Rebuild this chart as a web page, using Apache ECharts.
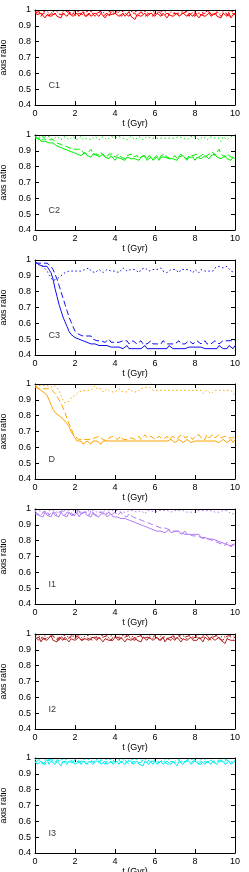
<!DOCTYPE html>
<html><head><meta charset="utf-8">
<script src="https://cdn.jsdelivr.net/npm/echarts@6/dist/echarts.min.js"></script>
<style>html,body{margin:0;padding:0;background:#fff;overflow:hidden}#c{width:249px;height:872px}</style>
</head><body><div id="c"></div>
<script>
const T = [0,0.1,0.2,0.3,0.4,0.5,0.6,0.7,0.8,0.9,1,1.1,1.2,1.3,1.4,1.5,1.6,1.7,1.8,1.9,2,2.1,2.2,2.3,2.4,2.5,2.6,2.7,2.8,2.9,3,3.1,3.2,3.3,3.4,3.5,3.6,3.7,3.8,3.9,4,4.1,4.2,4.3,4.4,4.5,4.6,4.7,4.8,4.9,5,5.1,5.2,5.3,5.4,5.5,5.6,5.7,5.8,5.9,6,6.1,6.2,6.3,6.4,6.5,6.6,6.7,6.8,6.9,7,7.1,7.2,7.3,7.4,7.5,7.6,7.7,7.8,7.9,8,8.1,8.2,8.3,8.4,8.5,8.6,8.7,8.8,8.9,9,9.1,9.2,9.3,9.4,9.5,9.6,9.7,9.8,9.9,10];
const xTicks = [0,2,4,6,8,10];
const yTicks = [0.4,0.5,0.6,0.7,0.8,0.9,1];
const labels = ['C1','C2','C3','D','I1','I2','I3'];

const C1_solid = [0.99,0.97,0.96,0.98,0.97,0.95,0.97,0.98,0.96,0.97,
0.98,0.96,0.97,0.95,0.98,0.97,0.96,0.98,0.97,0.96,
0.97,0.98,0.96,0.97,0.99,0.96,0.97,0.98,0.96,0.97,
0.98,0.97,0.96,0.98,0.97,0.95,0.97,0.98,0.97,0.96,
0.98,0.97,0.96,0.97,0.98,0.96,0.97,0.99,0.96,0.97,
0.94,0.97,0.98,0.96,0.97,0.98,0.96,0.97,0.98,0.97,
0.96,0.98,0.97,0.96,0.98,0.97,0.95,0.97,0.98,0.96,
0.97,0.98,0.96,0.97,0.98,0.97,0.96,0.98,0.97,0.96,
0.98,0.97,0.95,0.97,0.98,0.96,0.97,0.98,0.96,0.97,
0.98,0.96,0.97,0.95,0.98,0.97,0.96,0.98,0.95,0.97,0.98];
const C1_dashed = [0.98,0.97,0.99,0.96,0.98,0.97,0.98,0.96,0.99,0.97,
0.96,0.98,0.99,0.97,0.96,0.98,0.97,0.99,0.96,0.98,
0.97,0.96,0.98,0.99,0.97,0.98,0.96,0.97,0.99,0.98,
0.96,0.98,0.97,0.99,0.96,0.97,0.98,0.96,0.99,0.97,
0.97,0.99,0.98,0.96,0.97,0.98,0.99,0.96,0.98,0.97,
0.98,0.96,0.97,0.99,0.98,0.96,0.97,0.98,0.99,0.96,
0.98,0.97,0.99,0.98,0.96,0.97,0.98,0.99,0.97,0.96,
0.98,0.99,0.97,0.96,0.98,0.97,0.99,0.96,0.98,0.97,
0.96,0.98,0.99,0.97,0.96,0.98,0.97,0.99,0.98,0.96,
0.97,0.99,0.98,0.96,0.97,0.99,0.98,0.96,0.97,0.98,0.97];
const C1_dotted = [0.99,0.98,0.99,0.97,0.99,0.98,0.99,0.98,0.97,0.99,
0.98,0.99,0.98,0.97,0.99,0.98,0.99,0.99,0.98,0.97,
0.99,0.98,0.99,0.98,0.97,0.99,0.98,0.99,0.98,0.99,
0.97,0.98,0.99,0.98,0.99,0.97,0.98,0.99,0.98,0.99,
0.98,0.97,0.99,0.98,0.99,0.98,0.97,0.99,0.98,0.99,
0.98,0.99,0.97,0.98,0.99,0.98,0.99,0.97,0.98,0.99,
0.99,0.98,0.97,0.99,0.98,0.99,0.98,0.97,0.99,0.98,
0.98,0.99,0.98,0.97,0.99,0.98,0.99,0.98,0.97,0.99,
0.99,0.98,0.99,0.98,0.97,0.99,0.98,0.99,0.97,0.98,
0.98,0.99,0.97,0.98,0.99,0.98,0.97,0.99,0.98,0.99,0.98];

const C2_solid = [0.98,0.97,0.98,0.96,0.97,0.96,0.97,0.95,0.96,0.95,
0.94,0.93,0.94,0.92,0.93,0.91,0.92,0.90,0.91,0.89,
0.89,0.88,0.89,0.87,0.88,0.89,0.87,0.88,0.86,0.88,
0.87,0.88,0.86,0.87,0.88,0.86,0.87,0.85,0.87,0.86,
0.84,0.86,0.87,0.85,0.86,0.84,0.86,0.87,0.85,0.86,
0.85,0.86,0.84,0.86,0.85,0.87,0.84,0.85,0.86,0.84,
0.85,0.86,0.84,0.86,0.85,0.86,0.87,0.85,0.86,0.85,
0.86,0.84,0.86,0.85,0.87,0.86,0.84,0.86,0.85,0.86,
0.84,0.86,0.87,0.85,0.86,0.87,0.86,0.85,0.87,0.86,
0.88,0.86,0.87,0.85,0.86,0.87,0.85,0.86,0.84,0.86,0.85];
const C2_dashed = [0.99,0.98,0.97,0.98,0.99,0.97,0.98,0.97,0.96,0.97,
0.96,0.95,0.96,0.94,0.95,0.93,0.94,0.92,0.93,0.91,
0.92,0.91,0.90,0.91,0.89,0.90,0.88,0.89,0.91,0.88,
0.89,0.87,0.88,0.89,0.87,0.88,0.86,0.88,0.87,0.88,
0.86,0.87,0.88,0.86,0.87,0.85,0.87,0.86,0.88,0.86,
0.86,0.87,0.85,0.86,0.87,0.86,0.85,0.87,0.86,0.85,
0.86,0.87,0.85,0.87,0.86,0.88,0.86,0.87,0.85,0.86,
0.87,0.85,0.86,0.88,0.86,0.87,0.85,0.87,0.86,0.87,
0.86,0.88,0.86,0.87,0.88,0.86,0.87,0.88,0.87,0.89,
0.87,0.89,0.91,0.88,0.87,0.86,0.88,0.87,0.86,0.87,0.86];
const C2_dotted = [0.99,0.98,0.99,0.98,0.97,0.99,0.98,0.99,0.98,0.97,
0.98,0.99,0.98,0.97,0.98,0.99,0.98,0.97,0.98,0.99,
0.98,0.97,0.98,0.99,0.97,0.98,0.98,0.99,0.97,0.98,
0.99,0.98,0.97,0.98,0.99,0.98,0.97,0.98,0.99,0.98,
0.98,0.97,0.99,0.98,0.98,0.99,0.97,0.98,0.99,0.98,
0.97,0.98,0.99,0.98,0.97,0.98,0.99,0.98,0.98,0.97,
0.98,0.99,0.98,0.97,0.98,0.99,0.98,0.97,0.98,0.99,
0.98,0.97,0.99,0.98,0.98,0.99,0.97,0.98,0.99,0.98,
0.99,0.98,0.97,0.98,0.99,0.98,0.97,0.98,0.99,0.98,
0.98,0.97,0.98,0.96,0.99,0.98,0.97,0.98,0.99,0.98,0.99];

const C3_solid = [0.99,0.98,0.97,0.98,0.96,0.97,0.96,0.95,0.92,0.88,
0.82,0.77,0.72,0.68,0.64,0.61,0.58,0.55,0.53,0.52,
0.51,0.50,0.50,0.49,0.49,0.48,0.48,0.47,0.47,0.46,
0.47,0.46,0.46,0.45,0.46,0.45,0.46,0.45,0.45,0.46,
0.45,0.44,0.45,0.45,0.44,0.45,0.46,0.44,0.45,0.44,
0.45,0.44,0.45,0.44,0.45,0.46,0.44,0.45,0.44,0.43,
0.44,0.45,0.44,0.45,0.44,0.45,0.44,0.46,0.45,0.44,
0.45,0.44,0.45,0.44,0.45,0.44,0.44,0.45,0.44,0.45,
0.44,0.45,0.44,0.45,0.46,0.44,0.45,0.44,0.45,0.44,
0.45,0.44,0.46,0.45,0.44,0.45,0.44,0.46,0.45,0.44,0.46];
const C3_dashed = [0.98,0.99,0.98,0.97,0.98,0.97,0.98,0.97,0.96,0.94,
0.91,0.88,0.84,0.80,0.76,0.72,0.68,0.64,0.61,0.58,
0.55,0.54,0.53,0.54,0.52,0.53,0.52,0.51,0.52,0.50,
0.51,0.49,0.50,0.49,0.50,0.48,0.49,0.50,0.48,0.49,
0.48,0.49,0.48,0.47,0.49,0.48,0.49,0.47,0.48,0.49,
0.48,0.47,0.48,0.49,0.47,0.48,0.47,0.48,0.49,0.47,
0.48,0.47,0.48,0.47,0.49,0.48,0.47,0.48,0.47,0.48,
0.47,0.48,0.49,0.47,0.48,0.47,0.48,0.49,0.48,0.47,
0.48,0.49,0.48,0.47,0.48,0.49,0.47,0.48,0.47,0.48,
0.49,0.48,0.47,0.48,0.49,0.48,0.49,0.48,0.49,0.48,0.49];
const C3_dotted = [0.99,0.98,0.97,0.98,0.96,0.95,0.93,0.91,0.89,0.87,
0.87,0.88,0.89,0.90,0.91,0.92,0.91,0.93,0.92,0.93,
0.94,0.93,0.94,0.93,0.92,0.94,0.93,0.95,0.93,0.94,
0.92,0.93,0.94,0.93,0.92,0.93,0.94,0.95,0.93,0.92,
0.93,0.94,0.92,0.93,0.95,0.94,0.93,0.92,0.94,0.93,
0.94,0.93,0.92,0.94,0.93,0.95,0.94,0.93,0.92,0.94,
0.93,0.94,0.93,0.95,0.93,0.94,0.92,0.93,0.94,0.93,
0.94,0.93,0.92,0.94,0.93,0.94,0.93,0.94,0.93,0.92,
0.94,0.93,0.92,0.94,0.95,0.93,0.94,0.93,0.92,0.93,
0.95,0.94,0.96,0.97,0.95,0.94,0.96,0.95,0.93,0.94,0.92];

const D_solid = [0.98,0.97,0.97,0.96,0.95,0.94,0.93,0.90,0.87,0.84,
0.82,0.81,0.80,0.79,0.78,0.77,0.75,0.73,0.70,0.68,
0.66,0.64,0.63,0.64,0.62,0.63,0.64,0.63,0.62,0.64,
0.63,0.64,0.63,0.62,0.64,0.63,0.64,0.63,0.64,0.63,
0.64,0.63,0.64,0.65,0.64,0.63,0.64,0.65,0.64,0.63,
0.64,0.65,0.64,0.63,0.64,0.65,0.64,0.63,0.64,0.65,
0.64,0.63,0.64,0.65,0.64,0.63,0.64,0.64,0.65,0.64,
0.63,0.64,0.65,0.64,0.63,0.64,0.65,0.64,0.63,0.64,
0.64,0.63,0.64,0.65,0.64,0.63,0.64,0.65,0.64,0.63,
0.64,0.65,0.63,0.64,0.65,0.64,0.63,0.64,0.65,0.63,0.65];
const D_dashed = [0.99,0.98,0.97,0.98,0.97,0.98,0.97,0.98,0.97,0.96,
0.94,0.92,0.90,0.88,0.85,0.82,0.78,0.75,0.72,0.69,
0.67,0.66,0.65,0.66,0.65,0.64,0.65,0.66,0.65,0.64,
0.66,0.65,0.67,0.66,0.65,0.66,0.64,0.66,0.65,0.67,
0.66,0.65,0.66,0.67,0.65,0.66,0.65,0.64,0.66,0.67,
0.65,0.66,0.67,0.65,0.66,0.68,0.66,0.65,0.67,0.66,
0.65,0.66,0.67,0.66,0.65,0.66,0.67,0.65,0.66,0.67,
0.66,0.65,0.67,0.66,0.68,0.66,0.65,0.67,0.66,0.65,
0.67,0.66,0.68,0.66,0.67,0.65,0.68,0.66,0.67,0.68,
0.66,0.67,0.68,0.66,0.65,0.67,0.68,0.66,0.67,0.66,0.68];
const D_dotted = [0.99,0.98,0.99,0.98,0.99,0.98,0.99,0.99,0.98,0.99,
0.99,0.98,0.96,0.93,0.90,0.88,0.87,0.89,0.91,0.92,
0.93,0.94,0.95,0.94,0.96,0.95,0.96,0.97,0.96,0.95,
0.99,0.97,0.96,0.97,0.95,0.96,0.97,0.96,0.95,0.96,
0.95,0.96,0.97,0.96,0.95,0.96,0.95,0.97,0.96,0.95,
0.96,0.95,0.96,0.97,0.96,0.98,0.99,0.98,0.97,0.96,
0.97,0.96,0.95,0.96,0.97,0.96,0.95,0.96,0.97,0.96,
0.95,0.96,0.97,0.96,0.95,0.96,0.97,0.96,0.95,0.96,
0.97,0.96,0.95,0.96,0.94,0.95,0.96,0.95,0.94,0.95,
0.96,0.97,0.96,0.95,0.96,0.97,0.96,0.95,0.96,0.94,0.93];

const I1_solid = [0.97,0.98,0.96,0.97,0.95,0.98,0.96,0.97,0.95,0.98,
0.96,0.97,0.95,0.98,0.96,0.97,0.95,0.98,0.96,0.97,
0.96,0.98,0.95,0.97,0.96,0.98,0.96,0.97,0.95,0.98,
0.96,0.97,0.95,0.97,0.96,0.97,0.95,0.96,0.97,0.95,
0.96,0.95,0.96,0.94,0.95,0.94,0.95,0.93,0.94,0.92,
0.93,0.91,0.92,0.90,0.91,0.89,0.90,0.88,0.89,0.87,
0.88,0.86,0.87,0.86,0.87,0.85,0.86,0.87,0.85,0.86,
0.86,0.85,0.86,0.84,0.85,0.86,0.84,0.85,0.84,0.85,
0.84,0.83,0.84,0.82,0.83,0.82,0.83,0.81,0.82,0.81,
0.81,0.80,0.81,0.79,0.80,0.78,0.79,0.77,0.78,0.77,0.78];
const I1_dashed = [0.99,0.97,0.98,0.96,0.98,0.97,0.99,0.96,0.98,0.97,
0.98,0.96,0.98,0.97,0.99,0.96,0.98,0.97,0.98,0.96,
0.98,0.97,0.99,0.96,0.98,0.97,0.98,0.96,0.99,0.97,
0.98,0.96,0.98,0.97,0.98,0.96,0.97,0.98,0.96,0.97,
0.98,0.96,0.97,0.98,0.96,0.97,0.95,0.97,0.96,0.95,
0.96,0.94,0.95,0.93,0.94,0.92,0.93,0.91,0.92,0.90,
0.91,0.89,0.90,0.88,0.89,0.88,0.89,0.87,0.88,0.86,
0.87,0.86,0.87,0.85,0.86,0.84,0.85,0.84,0.85,0.83,
0.84,0.83,0.84,0.82,0.83,0.81,0.82,0.81,0.82,0.80,
0.81,0.79,0.80,0.78,0.79,0.77,0.79,0.78,0.76,0.78,0.77];
const I1_dotted = [0.99,0.98,0.99,0.99,0.98,0.99,0.97,0.99,0.98,0.99,
0.99,0.98,0.99,0.98,0.99,0.99,0.98,0.99,0.97,0.99,
0.98,0.99,0.99,0.98,0.99,0.98,0.99,0.99,0.98,0.99,
0.99,0.98,0.99,0.98,0.99,0.99,0.97,0.99,0.98,0.99,
0.98,0.99,0.99,0.98,0.99,0.98,0.99,0.99,0.98,0.99,
0.99,0.98,0.99,0.99,0.98,0.97,0.99,0.98,0.99,0.99,
0.98,0.99,0.99,0.98,0.99,0.98,0.99,0.99,0.98,0.99,
0.99,0.98,0.99,0.98,0.99,0.99,0.98,0.99,0.98,0.99,
0.98,0.99,0.99,0.98,0.99,0.98,0.99,0.98,0.99,0.99,
0.98,0.99,0.98,0.99,0.99,0.98,0.99,0.98,0.97,0.98,0.97];

const I2_solid = [0.97,0.96,0.98,0.95,0.97,0.98,0.96,0.97,0.99,0.96,
0.97,0.95,0.98,0.97,0.96,0.98,0.97,0.95,0.97,0.98,
0.96,0.97,0.98,0.96,0.95,0.97,0.98,0.96,0.97,0.98,
0.97,0.96,0.98,0.97,0.95,0.97,0.98,0.96,0.97,0.96,
0.98,0.97,0.96,0.98,0.97,0.95,0.97,0.98,0.96,0.97,
0.98,0.96,0.97,0.95,0.98,0.97,0.96,0.98,0.97,0.96,
0.97,0.98,0.96,0.97,0.98,0.95,0.97,0.96,0.98,0.97,
0.96,0.98,0.97,0.95,0.97,0.98,0.96,0.97,0.98,0.96,
0.97,0.96,0.98,0.97,0.95,0.98,0.97,0.96,0.98,0.97,
0.96,0.97,0.98,0.96,0.97,0.94,0.97,0.98,0.96,0.97,0.96];
const I2_dashed = [0.98,0.97,0.96,0.98,0.99,0.97,0.96,0.98,0.97,0.99,
0.97,0.98,0.96,0.99,0.97,0.98,0.96,0.97,0.99,0.98,
0.97,0.99,0.97,0.98,0.96,0.98,0.99,0.97,0.98,0.96,
0.98,0.99,0.97,0.96,0.98,0.97,0.99,0.98,0.96,0.98,
0.97,0.98,0.99,0.97,0.96,0.98,0.97,0.99,0.97,0.98,
0.96,0.98,0.97,0.99,0.97,0.96,0.98,0.99,0.97,0.98,
0.99,0.97,0.98,0.96,0.98,0.99,0.97,0.98,0.96,0.99,
0.97,0.98,0.99,0.97,0.96,0.98,0.97,0.99,0.98,0.97,
0.98,0.99,0.97,0.96,0.98,0.97,0.99,0.98,0.96,0.98,
0.97,0.99,0.97,0.98,0.96,0.98,0.97,0.99,0.98,0.97,0.98];
const I2_dotted = [0.99,0.98,0.99,0.97,0.98,0.99,0.98,0.97,0.99,0.98,
0.98,0.99,0.97,0.98,0.99,0.98,0.99,0.97,0.98,0.99,
0.97,0.98,0.99,0.98,0.97,0.99,0.98,0.99,0.98,0.97,
0.99,0.98,0.97,0.99,0.98,0.99,0.97,0.98,0.99,0.98,
0.98,0.99,0.98,0.97,0.99,0.98,0.99,0.98,0.97,0.99,
0.97,0.98,0.99,0.98,0.99,0.97,0.98,0.99,0.98,0.97,
0.99,0.98,0.97,0.99,0.98,0.98,0.99,0.97,0.98,0.99,
0.98,0.97,0.99,0.98,0.99,0.98,0.97,0.99,0.98,0.98,
0.99,0.98,0.98,0.97,0.99,0.98,0.99,0.97,0.98,0.99,
0.98,0.99,0.97,0.98,0.99,0.98,0.97,0.99,0.98,0.99,0.98];

const I3_solid = [0.98,0.96,0.97,0.98,0.96,0.97,0.99,0.96,0.98,0.97,
0.96,0.98,0.97,0.95,0.98,0.97,0.96,0.98,0.97,0.98,
0.96,0.97,0.98,0.96,0.98,0.97,0.96,0.98,0.97,0.96,
0.98,0.97,0.98,0.96,0.97,0.98,0.96,0.97,0.98,0.96,
0.97,0.98,0.96,0.98,0.97,0.96,0.98,0.97,0.98,0.96,
0.97,0.98,0.96,0.97,0.95,0.98,0.97,0.96,0.98,0.97,
0.98,0.96,0.97,0.98,0.96,0.97,0.98,0.97,0.96,0.98,
0.97,0.95,0.98,0.97,0.96,0.98,0.97,0.98,0.96,0.97,
0.98,0.97,0.96,0.98,0.97,0.96,0.98,0.97,0.96,0.98,
0.97,0.96,0.98,0.97,0.98,0.96,0.97,0.98,0.96,0.97,0.98];
const I3_dashed = [0.97,0.98,0.99,0.97,0.98,0.96,0.98,0.97,0.99,0.98,
0.97,0.99,0.98,0.97,0.96,0.98,0.99,0.97,0.98,0.97,
0.99,0.98,0.97,0.98,0.99,0.97,0.98,0.96,0.98,0.99,
0.97,0.98,0.97,0.99,0.98,0.96,0.98,0.99,0.97,0.98,
0.98,0.97,0.99,0.97,0.98,0.99,0.97,0.98,0.96,0.98,
0.99,0.97,0.98,0.97,0.99,0.98,0.97,0.99,0.98,0.96,
0.98,0.99,0.97,0.98,0.99,0.97,0.98,0.96,0.98,0.99,
0.97,0.98,0.99,0.97,0.98,0.97,0.99,0.98,0.97,0.98,
0.99,0.97,0.98,0.96,0.98,0.99,0.97,0.98,0.99,0.97,
0.98,0.97,0.99,0.98,0.97,0.98,0.99,0.97,0.98,0.97,0.98];
const I3_dotted = [0.99,0.98,0.99,0.98,0.97,0.99,0.98,0.99,0.98,0.99,
0.98,0.97,0.99,0.98,0.99,0.98,0.99,0.97,0.98,0.99,
0.98,0.99,0.98,0.97,0.99,0.98,0.99,0.98,0.99,0.97,
0.99,0.98,0.99,0.98,0.97,0.99,0.98,0.99,0.98,0.99,
0.97,0.98,0.99,0.98,0.99,0.98,0.97,0.99,0.98,0.99,
0.98,0.99,0.97,0.98,0.99,0.98,0.99,0.98,0.97,0.99,
0.99,0.98,0.99,0.97,0.98,0.99,0.98,0.99,0.98,0.97,
0.98,0.99,0.98,0.99,0.97,0.98,0.99,0.98,0.99,0.98,
0.99,0.97,0.98,0.99,0.98,0.99,0.98,0.97,0.99,0.98,
0.98,0.99,0.98,0.97,0.99,0.98,0.99,0.98,0.97,0.99,0.98];

const labelPos = [0.7, 0.52];

const panels = [
  {label: labels[0], color: '#ff0000', s: C1_solid, d: C1_dashed, o: C1_dotted},
  {label: labels[1], color: '#00f000', s: C2_solid, d: C2_dashed, o: C2_dotted},
  {label: labels[2], color: '#1010f0', s: C3_solid, d: C3_dashed, o: C3_dotted},
  {label: labels[3], color: '#ffa500', s: D_solid, d: D_dashed, o: D_dotted},
  {label: labels[4], color: '#b27cf5', s: I1_solid, d: I1_dashed, o: I1_dotted},
  {label: labels[5], color: '#b22222', s: I2_solid, d: I2_dashed, o: I2_dotted},
  {label: labels[6], color: '#00f0f0', s: I3_solid, d: I3_dashed, o: I3_dotted}
];

const FONT = 'Liberation Sans, Arial, sans-serif';
const tops = [10, 135, 260, 384, 509, 634, 758];
const grids = [], xAxes = [], yAxes = [], series = [];
panels.forEach((p, i) => {
  grids.push({left: 35, width: 200, top: tops[i], height: 95, outerBoundsMode: 'none'});
  const baseX = {gridIndex: i, type: 'value', min: xTicks[0], max: xTicks[xTicks.length-1], interval: 2,
    splitLine: {show: false}, axisLine: {show: true, onZero: false, lineStyle: {color: '#000', width: 1}},
    axisTick: {show: true, inside: true, length: 4, lineStyle: {color: '#000'}}};
  xAxes.push(Object.assign({}, baseX, {position: 'bottom',
    axisLabel: {show: true, color: '#000', fontSize: 9, fontFamily: FONT, margin: 4},
    name: 't (Gyr)', nameLocation: 'middle', nameGap: 4,
    nameTextStyle: {color: '#000', fontSize: 9, fontFamily: FONT}}));
  xAxes.push(Object.assign({}, baseX, {position: 'top', axisLabel: {show: false}}));
  const baseY = {gridIndex: i, type: 'value', min: yTicks[0], max: yTicks[yTicks.length-1], interval: 0.1,
    splitLine: {show: false}, axisLine: {show: true, onZero: false, lineStyle: {color: '#000', width: 1}},
    axisTick: {show: true, inside: true, length: 4, lineStyle: {color: '#000'}}};
  yAxes.push(Object.assign({}, baseY, {position: 'left',
    axisLabel: {show: true, color: '#000', fontSize: 9, fontFamily: FONT, margin: 4,
      formatter: v => String(Math.round(v * 10) / 10)},
    name: 'axis ratio', nameLocation: 'middle', nameGap: 17, nameRotate: 90,
    nameTextStyle: {color: '#000', fontSize: 9, fontFamily: FONT}}));
  yAxes.push(Object.assign({}, baseY, {position: 'right', axisLabel: {show: false}}));
  const xi = i * 2, yi = i * 2;
  const mk = (arr, type) => ({type: 'line', xAxisIndex: xi, yAxisIndex: yi, symbol: 'none',
    data: T.map((t, j) => [t, arr[j]]), clip: true,
    lineStyle: {color: p.color, width: 1, type: type}, z: 3});
  series.push(mk(p.o, [1.5, 2.5]));
  series.push(mk(p.d, [6, 3]));
  series.push(mk(p.s, 'solid'));
  series.push({type: 'scatter', xAxisIndex: xi, yAxisIndex: yi, symbolSize: 1,
    itemStyle: {color: 'rgba(0,0,0,0)'}, data: [{value: labelPos, name: p.label}],
    label: {show: true, position: [0, 0], align: 'left', verticalAlign: 'middle',
      formatter: '{b}', color: '#000', fontSize: 9, fontFamily: FONT}, silent: true});
});

const chart = echarts.init(document.getElementById('c'), null, {renderer: 'canvas'});
chart.setOption({animation: false, backgroundColor: '#fff', grid: grids, xAxis: xAxes, yAxis: yAxes, series: series});
</script></body></html>
